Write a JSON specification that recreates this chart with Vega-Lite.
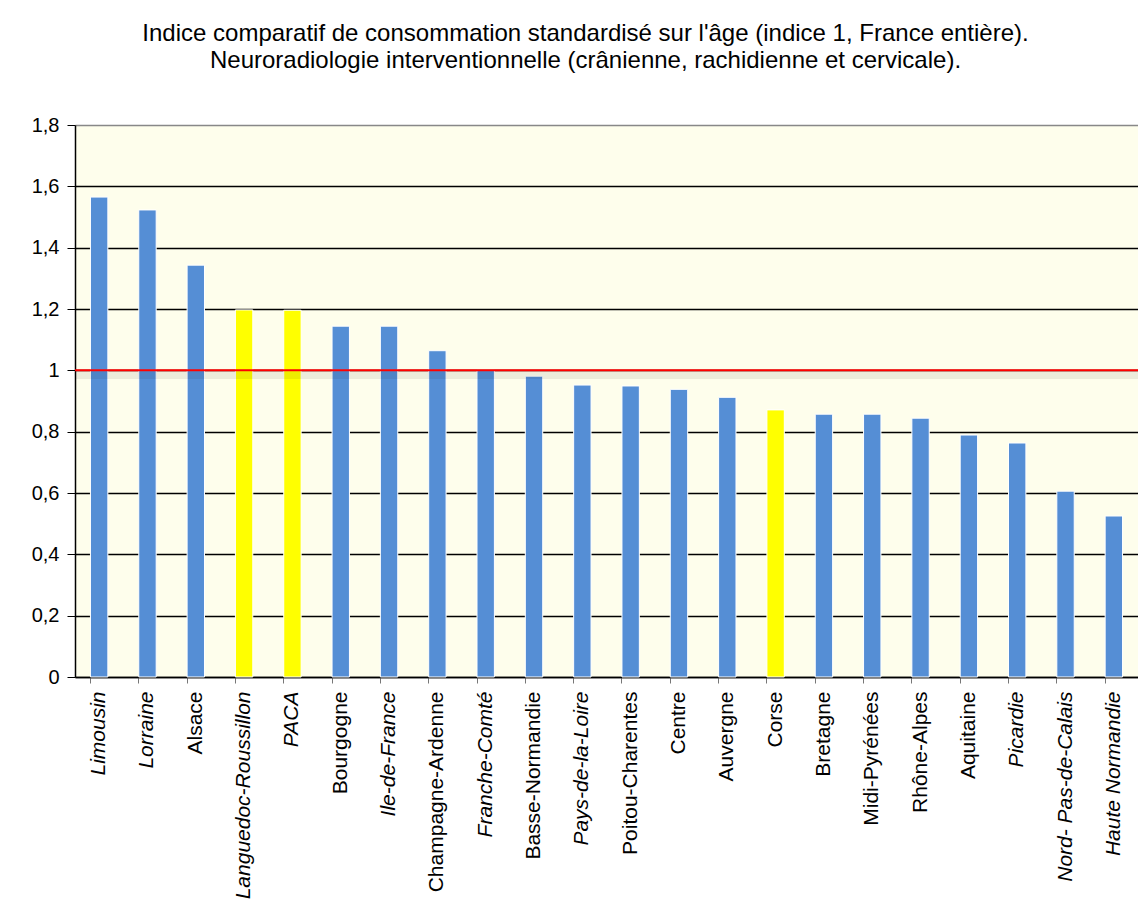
{
  "$schema": "https://vega.github.io/schema/vega-lite/v6.json",
  "width": 1063,
  "height": 552,
  "autosize": {"type": "none"},
  "padding": {"left": 75, "top": 125, "right": 0, "bottom": 224},
  "background": "white",
  "title": {
    "text": ["Indice comparatif  de consommation standardisé sur l'âge (indice 1, France entière).", "Neuroradiologie interventionnelle (crânienne, rachidienne et cervicale)."],
    "font": "Liberation Sans",
    "fontSize": 24,
    "fontWeight": "normal",
    "color": "black",
    "anchor": "middle",
    "frame": "group",
    "dx": -21,
    "offset": 42,
    "lineHeight": 27
  },
  "data": {
    "values": [
      {"region": "Limousin", "indice": 1.565, "groupe": "autre"},
      {"region": "Lorraine", "indice": 1.523, "groupe": "autre"},
      {"region": "Alsace", "indice": 1.343, "groupe": "autre"},
      {"region": "Languedoc-Roussillon", "indice": 1.197, "groupe": "sud"},
      {"region": "PACA", "indice": 1.196, "groupe": "sud"},
      {"region": "Bourgogne", "indice": 1.144, "groupe": "autre"},
      {"region": "Ile-de-France", "indice": 1.144, "groupe": "autre"},
      {"region": "Champagne-Ardenne", "indice": 1.064, "groupe": "autre"},
      {"region": "Franche-Comté", "indice": 1.0, "groupe": "autre"},
      {"region": "Basse-Normandie", "indice": 0.981, "groupe": "autre"},
      {"region": "Pays-de-la-Loire", "indice": 0.952, "groupe": "autre"},
      {"region": "Poitou-Charentes", "indice": 0.949, "groupe": "autre"},
      {"region": "Centre", "indice": 0.938, "groupe": "autre"},
      {"region": "Auvergne", "indice": 0.912, "groupe": "autre"},
      {"region": "Corse", "indice": 0.871, "groupe": "sud"},
      {"region": "Bretagne", "indice": 0.857, "groupe": "autre"},
      {"region": "Midi-Pyrénées", "indice": 0.857, "groupe": "autre"},
      {"region": "Rhône-Alpes", "indice": 0.844, "groupe": "autre"},
      {"region": "Aquitaine", "indice": 0.789, "groupe": "autre"},
      {"region": "Picardie", "indice": 0.763, "groupe": "autre"},
      {"region": "Nord- Pas-de-Calais", "indice": 0.606, "groupe": "autre"},
      {"region": "Haute Normandie", "indice": 0.525, "groupe": "autre"}
    ]
  },
  "config": {
    "view": {"stroke": null, "fill": "#FEFEEC"},
    "font": "Liberation Sans"
  },
  "layer": [
    {
      "mark": {"type": "bar", "stroke": "white", "strokeWidth": 1},
      "encoding": {
        "x": {
          "field": "region",
          "type": "nominal",
          "sort": null,
          "scale": {"paddingInner": 0.64, "paddingOuter": 0.32},
          "axis": {
            "title": null,
            "labelAngle": -90,
            "labelAlign": "right",
            "labelBaseline": "middle",
            "labelFontSize": 21,
            "labelFont": "Liberation Sans",
            "labelColor": "black",
            "labelPadding": 8,
            "labelLimit": 0,
            "labelFontStyle": {
              "condition": {"test": "indexof(['Limousin','Lorraine','Languedoc-Roussillon','PACA','Ile-de-France','Franche-Comté','Pays-de-la-Loire','Picardie','Nord- Pas-de-Calais','Haute Normandie'], datum.value) >= 0", "value": "italic"},
              "value": "normal"
            },
            "bandPosition": 0,
            "ticks": true,
            "tickSize": 6,
            "tickColor": "#777777",
            "domainColor": "black",
            "domainWidth": 1.5,
            "grid": false
          }
        },
        "y": {
          "field": "indice",
          "type": "quantitative",
          "scale": {"domain": [0, 1.8], "nice": false},
          "axis": {
            "title": null,
            "values": [0, 0.2, 0.4, 0.6, 0.8, 1, 1.2, 1.4, 1.6, 1.8],
            "labelExpr": "replace(format(datum.value, ''), '.', ',')",
            "labelFontSize": 20,
            "labelColor": "black",
            "labelPadding": 8,
            "tickSize": 8,
            "tickColor": "black",
            "domainColor": "black",
            "domainWidth": 1.5,
            "grid": true,
            "gridColor": {"condition": {"test": "datum.value >= 1.8", "value": "#888888"}, "value": "black"},
            "gridWidth": 1.5,
            "gridOpacity": 1
          }
        },
        "color": {
          "field": "groupe",
          "type": "nominal",
          "scale": {"domain": ["autre", "sud"], "range": ["#558ED5", "#FFFF00"]},
          "legend": null
        }
      }
    },
    {
      "mark": {"type": "rule", "color": "#000000", "opacity": 0.07, "strokeWidth": 8},
      "data": {"values": [{"ref": 0.985}]},
      "encoding": {"y": {"field": "ref", "type": "quantitative"}}
    },
    {
      "mark": {"type": "rule", "color": "#FF0000", "strokeWidth": 2},
      "data": {"values": [{"ref": 1}]},
      "encoding": {"y": {"field": "ref", "type": "quantitative"}}
    }
  ]
}
